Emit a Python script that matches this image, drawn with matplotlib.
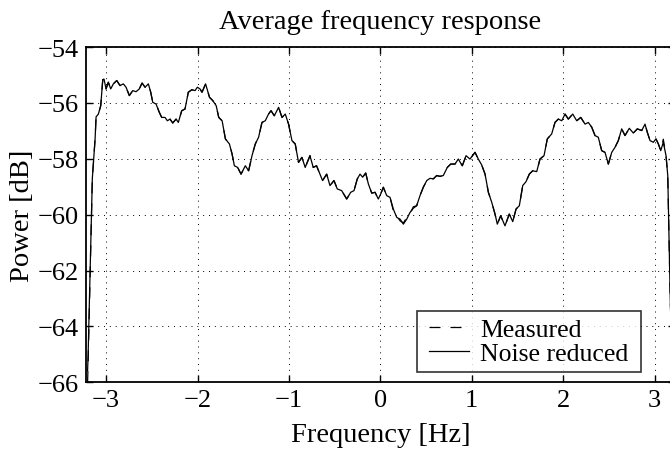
import matplotlib
matplotlib.use("Agg")
import matplotlib.pyplot as plt
from matplotlib.path import Path
import numpy as np

plt.rcParams["font.family"] = ["Liberation Serif", "DejaVu Serif"]
plt.rcParams["axes.unicode_minus"] = True

# Frequency grid [Hz]
freq = [
    -3.203, -3.197, -3.151, -3.121, -3.110, -3.085, -3.059, -3.037, -3.023, -3.001,
    -2.976, -2.950, -2.921, -2.884, -2.848, -2.812, -2.782, -2.746, -2.709, -2.673,
    -2.637, -2.607, -2.574, -2.538, -2.512, -2.490, -2.454, -2.418, -2.392, -2.356,
    -2.330, -2.301, -2.271, -2.235, -2.210, -2.173, -2.137, -2.101, -2.063, -2.027,
    -2.002, -1.973, -1.951, -1.912, -1.869, -1.833, -1.796, -1.768, -1.731, -1.695,
    -1.651, -1.622, -1.597, -1.561, -1.524, -1.477, -1.441, -1.404, -1.368, -1.332,
    -1.295, -1.259, -1.223, -1.196, -1.160, -1.113, -1.076, -1.040, -1.004, -0.967,
    -0.931, -0.895, -0.858, -0.822, -0.770, -0.734, -0.698, -0.661, -0.632, -0.587,
    -0.551, -0.507, -0.471, -0.423, -0.368, -0.324, -0.288, -0.252, -0.222, -0.193,
    -0.160, -0.131, -0.094, -0.058, -0.022, 0.004, 0.033, 0.070, 0.106, 0.142,
    0.180, 0.216, 0.252, 0.289, 0.325, 0.361, 0.398, 0.434, 0.470, 0.508,
    0.544, 0.580, 0.617, 0.653, 0.689, 0.733, 0.770, 0.817, 0.853, 0.897,
    0.938, 0.981, 1.036, 1.072, 1.109, 1.146, 1.182, 1.219, 1.255, 1.280,
    1.317, 1.364, 1.411, 1.449, 1.485, 1.521, 1.558, 1.594, 1.630, 1.667,
    1.711, 1.747, 1.791, 1.827, 1.875, 1.911, 1.947, 1.985, 2.021, 2.057,
    2.105, 2.149, 2.193, 2.240, 2.276, 2.313, 2.349, 2.385, 2.422, 2.458,
    2.495, 2.532, 2.568, 2.604, 2.641, 2.677, 2.724, 2.768, 2.812, 2.860,
    2.896, 2.921, 2.951, 2.987, 3.016, 3.042, 3.068, 3.096, 3.126, 3.145,
    3.160, 3.172, 3.190,
]

# Measured power [dB]
measured = [
    -66.0, -65.3, -58.7, -57.3, -56.5, -56.4, -56.1, -55.17, -55.15, -55.5,
    -55.26, -55.5, -55.32, -55.2, -55.38, -55.32, -55.44, -55.74, -55.56, -55.6,
    -55.5, -55.29, -55.44, -55.32, -55.62, -55.98, -56.04, -56.34, -56.52, -56.52,
    -56.64, -56.58, -56.72, -56.58, -56.7, -56.28, -56.22, -55.62, -55.53, -55.56,
    -55.44, -55.5, -55.62, -55.32, -55.8, -55.92, -56.1, -56.52, -56.64, -57.29,
    -57.47, -57.83, -58.25, -58.31, -58.55, -58.25, -58.43, -57.89, -57.47, -57.23,
    -56.7, -56.64, -56.4, -56.28, -56.46, -56.16, -56.52, -56.4, -56.76, -57.35,
    -57.47, -58.13, -57.95, -58.31, -57.89, -58.31, -58.25, -58.55, -58.78, -58.55,
    -58.96, -58.78, -59.08, -59.14, -59.44, -59.2, -59.14, -58.72, -58.55, -58.66,
    -58.51, -58.9, -59.23, -59.2, -59.44, -59.26, -59.02, -59.32, -59.38, -59.85,
    -60.05, -60.22, -60.30, -60.10, -59.97, -59.72, -59.68, -59.32, -59.02, -58.78,
    -58.7, -58.72, -58.6, -58.63, -58.6, -58.31, -58.19, -58.19, -58.01, -58.25,
    -57.89, -58.01, -57.77, -58.01, -58.22, -58.55, -59.2, -59.56, -59.98, -60.34,
    -60.04, -60.4, -59.98, -60.25, -59.8, -59.68, -58.96, -58.82, -58.55, -58.43,
    -58.46, -58.01, -57.89, -57.29, -57.11, -56.7, -56.58, -56.64, -56.4, -56.58,
    -56.4, -56.64, -56.52, -56.76, -56.7, -56.87, -57.17, -57.23, -57.71, -57.77,
    -58.19, -57.77, -57.59, -57.35, -56.93, -57.17, -56.91, -57.08, -56.93, -56.99,
    -56.76, -57.05, -57.35, -57.41, -57.29, -57.47, -57.71, -57.30, -57.89, -58.6,
    -61.0, -63.0, -65.0,
]

# Noise-reduced power [dB]
noise_reduced = [
    -65.6, -65.0, -58.7, -57.3, -56.5, -56.4, -56.1, -55.17, -55.15, -55.5,
    -55.26, -55.5, -55.32, -55.2, -55.38, -55.32, -55.44, -55.74, -55.56, -55.6,
    -55.5, -55.29, -55.44, -55.32, -55.62, -55.98, -56.04, -56.34, -56.52, -56.52,
    -56.64, -56.58, -56.72, -56.58, -56.7, -56.28, -56.22, -55.62, -55.53, -55.56,
    -55.44, -55.5, -55.62, -55.32, -55.8, -55.92, -56.1, -56.52, -56.64, -57.29,
    -57.47, -57.83, -58.25, -58.31, -58.55, -58.25, -58.43, -57.89, -57.47, -57.23,
    -56.7, -56.64, -56.4, -56.28, -56.46, -56.16, -56.52, -56.4, -56.76, -57.35,
    -57.47, -58.13, -57.95, -58.31, -57.89, -58.31, -58.25, -58.55, -58.78, -58.55,
    -58.96, -58.78, -59.08, -59.14, -59.44, -59.2, -59.14, -58.72, -58.55, -58.66,
    -58.51, -58.9, -59.23, -59.2, -59.44, -59.26, -59.02, -59.32, -59.38, -59.8,
    -60.1, -60.16, -60.34, -60.16, -59.92, -59.77, -59.68, -59.32, -59.02, -58.78,
    -58.7, -58.72, -58.6, -58.63, -58.6, -58.31, -58.19, -58.19, -58.01, -58.25,
    -57.89, -58.01, -57.77, -58.01, -58.22, -58.55, -59.2, -59.56, -59.98, -60.34,
    -60.04, -60.4, -59.98, -60.25, -59.8, -59.68, -58.96, -58.82, -58.55, -58.43,
    -58.46, -58.01, -57.89, -57.29, -57.11, -56.7, -56.58, -56.64, -56.4, -56.58,
    -56.4, -56.64, -56.52, -56.76, -56.7, -56.87, -57.17, -57.23, -57.71, -57.77,
    -58.19, -57.77, -57.59, -57.35, -56.93, -57.17, -56.91, -57.08, -56.93, -56.99,
    -56.76, -57.05, -57.35, -57.41, -57.29, -57.47, -57.71, -57.41, -57.89, -58.6,
    -61.0, -63.0, -65.0,
]

x_ticks = [-3, -2, -1, 0, 1, 2, 3]
y_ticks = [-66, -64, -62, -60, -58, -56, -54]


def wide_box(x0, y0, width, height, mutation_size):
    """Square legend frame with extra horizontal padding."""
    px = 0.22 * mutation_size
    x1, y1 = x0 + width + px, y0 + height
    x0 = x0 - px
    return Path([(x0, y0), (x1, y0), (x1, y1), (x0, y1), (x0, y0)],
                closed=True)


fig = plt.figure(figsize=(6.70, 4.52), dpi=100)
ax = fig.add_axes([0.1284, 0.152, 0.8785, 0.7418])

ax.plot(freq, measured, color="black", linestyle=(0, (8.8, 8)), linewidth=0.9,
        label="Measured")
ax.plot(freq, noise_reduced, color="black", linestyle="-", linewidth=0.9,
        label="Noise reduced")

ax.set_xlim(-3.22, 3.22)
ax.set_ylim(-66, -54)
ax.set_xticks(x_ticks)
ax.set_yticks(y_ticks)

ax.grid(True, color="black", linestyle=(0, (1, 5)), linewidth=0.7)
ax.tick_params(direction="in", length=5, width=1.0, top=True, right=True,
               labelsize=19, pad=5)
for sp in ax.spines.values():
    sp.set_linewidth(1.3)

ax.set_title("Average frequency response", fontsize=20.5, pad=13.5)
ax.set_xlabel("Frequency [Hz]", fontsize=20.5, labelpad=8)
ax.set_ylabel("Power [dB]", fontsize=20.5, labelpad=2)

leg = ax.legend(loc="lower right", bbox_to_anchor=(0.9327, 0.032),
                borderaxespad=0, fontsize=18.5, frameon=True, fancybox=False,
                handlelength=1.55, handletextpad=0.45, borderpad=0.25,
                labelspacing=0.05)
frame = leg.get_frame()
frame.set_boxstyle(wide_box)
frame.set_edgecolor("black")
frame.set_linewidth(1.2)

fig.savefig("out.png", dpi=100)
